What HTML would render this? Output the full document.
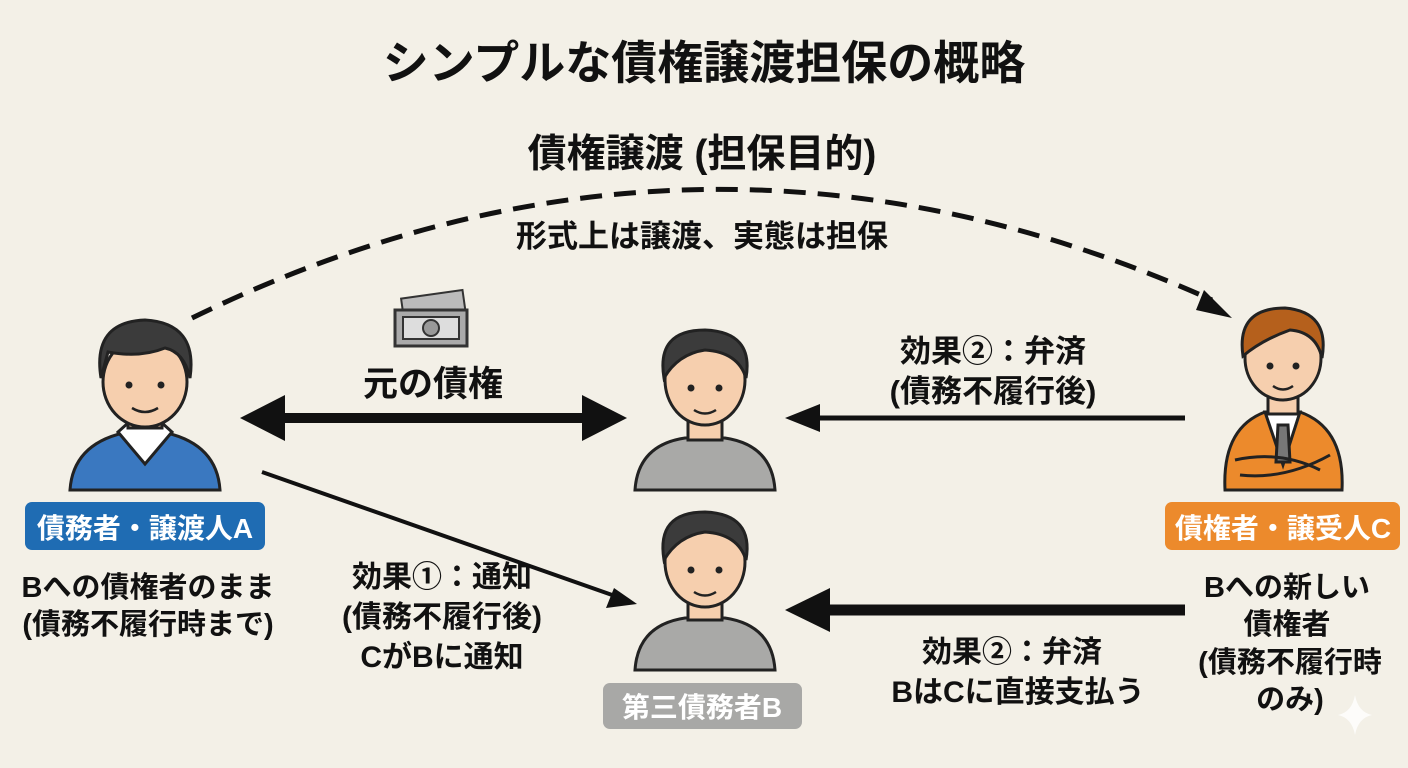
<!DOCTYPE html>
<html><head><meta charset="utf-8"><style>
html,body{margin:0;padding:0;background:#f3f0e7;}
svg{display:block}
text{font-family:"Liberation Sans","Noto Sans CJK JP",sans-serif;font-weight:bold;fill:#111;text-anchor:middle}
</style></head><body>
<svg width="1408" height="768" viewBox="0 0 1408 768">
<rect width="1408" height="768" fill="#f3f0e7"/>
<text x="704" y="79" font-size="46">シンプルな債権譲渡担保の概略</text>
<text x="702" y="167" font-size="39">債権譲渡 (担保目的)</text>
<text x="702" y="247" font-size="31">形式上は譲渡、実態は担保</text>
<path d="M192,318 Q700,70 1212,300" fill="none" stroke="#111" stroke-width="5" stroke-dasharray="22,12"/>
<path d="M1204,290 L1232,318 L1196,310 z" fill="#111"/>
<g transform="translate(395,300)">
<rect x="8" y="-6" width="62" height="30" fill="#bbb" stroke="#333" stroke-width="2" transform="rotate(-8 40 10)"/>
<rect x="0" y="10" width="72" height="36" fill="#aaa" stroke="#333" stroke-width="3"/>
<rect x="8" y="17" width="56" height="22" fill="#ddd" stroke="#333" stroke-width="2"/>
<circle cx="36" cy="28" r="8" fill="#999" stroke="#333" stroke-width="2"/>
</g>
<text x="433" y="396" font-size="35">元の債権</text>
<line x1="275" y1="418" x2="590" y2="418" stroke="#111" stroke-width="10"/>
<path d="M240,418 L285,395 L285,441 z" fill="#111"/>
<path d="M627,418 L582,395 L582,441 z" fill="#111"/>
<line x1="815" y1="418" x2="1185" y2="418" stroke="#111" stroke-width="5"/>
<path d="M785,418 L820,404 L820,432 z" fill="#111"/>
<text x="993" y="362" font-size="31">効果②：弁済</text>
<text x="993" y="402" font-size="31">(債務不履行後)</text>
<line x1="820" y1="610" x2="1185" y2="610" stroke="#111" stroke-width="11"/>
<path d="M785,610 L830,588 L830,632 z" fill="#111"/>
<text x="1012" y="662" font-size="30">効果②：弁済</text>
<text x="1018" y="702" font-size="30">BはCに直接支払う</text>
<line x1="262" y1="472" x2="615" y2="596" stroke="#111" stroke-width="4"/>
<path d="M637,604 L606,608 L614,588 z" fill="#111"/>
<text x="442" y="587" font-size="30">効果①：通知</text>
<text x="442" y="627" font-size="30">(債務不履行後)</text>
<text x="442" y="667" font-size="30">CがBに通知</text>
<!-- Person A -->
<g stroke="#222" stroke-width="3">
<path d="M70,490 Q73,445 123,433 L167,433 Q217,445 220,490 z" fill="#3a78c0"/>
<path d="M118,432 L145,464 L172,432 L162,423 L128,423 z" fill="#fff"/>
<rect x="128" y="403" width="34" height="25" fill="#f6cfae"/>
<ellipse cx="145" cy="382" rx="42" ry="45" fill="#f6cfae"/>
<path d="M101,378 Q92,322 145,320 Q198,323 190,378 Q184,352 165,348 Q140,358 108,352 z" fill="#3b3b3b"/>
</g>
<circle cx="129" cy="385" r="3.5" fill="#222"/><circle cx="161" cy="385" r="3.5" fill="#222"/>
<path d="M132,408 Q145,416 158,408" stroke="#222" stroke-width="2.5" fill="none"/>
<rect x="25" y="502" width="240" height="48" rx="7" fill="#1f6cb3"/>
<text x="145" y="538" font-size="28" style="fill:#fff">債務者・譲渡人A</text>
<text x="148" y="597" font-size="29">Bへの債権者のまま</text>
<text x="148" y="634" font-size="29">(債務不履行時まで)</text>
<!-- Person B1 -->
<g stroke="#222" stroke-width="3">
<path d="M635,490 Q638,445 685,438 L725,438 Q772,445 775,490 z" fill="#a9a9a7"/>
<rect x="688" y="410" width="34" height="30" fill="#f6cfae"/>
<ellipse cx="705" cy="380" rx="40" ry="45" fill="#f6cfae"/>
<path d="M664,378 Q656,330 705,330 Q754,332 746,378 Q738,352 705,350 Q678,354 664,378 z" fill="#3b3b3b"/>
</g>
<circle cx="691" cy="388" r="3.5" fill="#222"/><circle cx="719" cy="388" r="3.5" fill="#222"/>
<path d="M694,410 Q705,417 716,410" stroke="#222" stroke-width="2.5" fill="none"/>
<!-- Person B2 -->
<g stroke="#222" stroke-width="3">
<path d="M635,670 Q638,625 685,618 L725,618 Q772,625 775,670 z" fill="#a9a9a7"/>
<rect x="688" y="592" width="34" height="28" fill="#f6cfae"/>
<ellipse cx="705" cy="562" rx="40" ry="45" fill="#f6cfae"/>
<path d="M664,560 Q656,512 705,512 Q754,514 746,560 Q738,534 705,532 Q678,536 664,560 z" fill="#3b3b3b"/>
</g>
<circle cx="691" cy="570" r="3.5" fill="#222"/><circle cx="719" cy="570" r="3.5" fill="#222"/>
<path d="M694,592 Q705,599 716,592" stroke="#222" stroke-width="2.5" fill="none"/>
<rect x="603" y="683" width="199" height="46" rx="7" fill="#a8a8a6"/>
<text x="702" y="717" font-size="28" style="fill:#fff">第三債務者B</text>
<!-- Person C -->
<g stroke="#222" stroke-width="3">
<path d="M1225,490 Q1222,428 1265,412 L1300,412 Q1345,428 1342,490 z" fill="#ec8a2c"/>
<path d="M1265,412 L1283,465 L1300,412 z" fill="#fff"/>
<path d="M1278,425 L1288,425 L1290,462 L1276,462 z" fill="#777"/>
<path d="M1235,460 Q1280,450 1320,470 M1240,475 Q1285,480 1330,455" fill="none"/>
<rect x="1268" y="390" width="30" height="24" fill="#f6cfae"/>
<ellipse cx="1283" cy="358" rx="38" ry="42" fill="#f6cfae"/>
<path d="M1243,356 Q1236,308 1285,308 Q1330,312 1322,358 Q1316,332 1290,330 Q1262,340 1243,356 z" fill="#b5601c"/>
</g>
<circle cx="1270" cy="366" r="3.5" fill="#222"/><circle cx="1296" cy="366" r="3.5" fill="#222"/>
<path d="M1273,386 Q1283,393 1293,386" stroke="#222" stroke-width="2.5" fill="none"/>
<rect x="1165" y="502" width="235" height="48" rx="7" fill="#ec8a2c"/>
<text x="1283" y="538" font-size="28" style="fill:#fff">債権者・譲受人C</text>
<text x="1287" y="597" font-size="29">Bへの新しい</text>
<text x="1287" y="634" font-size="29">債権者</text>
<text x="1290" y="672" font-size="29">(債務不履行時</text>
<text x="1290" y="709" font-size="29">のみ)</text>
<path d="M1355,695 Q1358,712 1372,715 Q1358,718 1355,735 Q1352,718 1338,715 Q1352,712 1355,695 z" fill="#fff" opacity="0.8"/>
</svg>
</body></html>
